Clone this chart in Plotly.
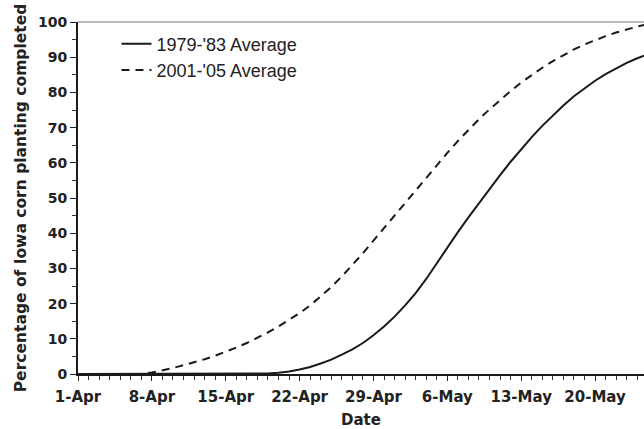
import pandas as pd
import plotly.graph_objects as go

# Dates (1-Apr through 25-May)
dates = pd.date_range("2001-04-01", "2001-05-25", freq="D")

avg_1979_83 = [0, 0, 0, 0, 0, 0, 0, 0, 0, 0, 0, 0, 0, 0, 0, 0, 0,
               0.05, 0.15, 0.35, 0.7, 1.3, 2.0, 3.0, 4.1, 5.5, 7.0, 8.8, 11.0, 13.5,
               16.3, 19.5, 23.0, 27.0, 31.5, 36.0, 40.3, 44.5, 48.6, 52.6, 56.5, 60.3,
               63.9, 67.3, 70.5, 73.5, 76.3, 78.9, 81.2, 83.3, 85.2, 86.9, 88.4, 89.7, 90.8]

avg_2001_05 = [0, 0, 0, 0, 0, 0, 0,
               0.4, 1.0, 1.7, 2.5, 3.3, 4.2, 5.2, 6.3, 7.5, 8.8, 10.2, 11.8, 13.5,
               15.3, 17.3, 19.5, 22.0, 24.7, 27.7, 30.9, 34.3, 37.9, 41.5, 45.1, 48.6,
               52.1, 55.6, 59.2, 62.8, 66.2, 69.4, 72.4, 75.2, 77.9, 80.4, 82.8, 85.0,
               87.0, 88.9, 90.6, 92.2, 93.6, 94.9, 96.0, 97.0, 97.9, 98.7, 99.4]

series_names = ["1979-'83 Average", "2001-'05 Average"]

x_tick_vals = pd.date_range("2001-04-01", "2001-05-20", freq="7D")
x_tick_text = ["1-Apr", "8-Apr", "15-Apr", "22-Apr", "29-Apr", "6-May", "13-May", "20-May"]
y_tick_vals = [0, 10, 20, 30, 40, 50, 60, 70, 80, 90, 100]

BOLD = "DejaVu Sans"
fig = go.Figure()
fig.add_trace(go.Scatter(x=dates, y=avg_1979_83, mode="lines", name=series_names[0],
                         line=dict(color="#1a1a1a", width=2)))
fig.add_trace(go.Scatter(x=dates, y=avg_2001_05, mode="lines", name=series_names[1],
                         line=dict(color="#1a1a1a", width=2, dash="8px,6px")))

x_range = ["2001-04-01", "2001-05-24 15:20"]

fig.update_layout(
    width=644, height=429,
    margin=dict(l=78, r=0, t=22, b=55, autoexpand=False),
    paper_bgcolor="white", plot_bgcolor="white",
    showlegend=True,
    legend=dict(x=0.068, y=0.99, xanchor="left", yanchor="top",
                bgcolor="rgba(0,0,0,0)",
                font=dict(family="Liberation Sans, Arial", size=18, color="#222")),
    xaxis=dict(
        type="date", range=x_range,
        tickmode="array", tickvals=x_tick_vals, ticktext=x_tick_text,
        ticks="outside", ticklen=5, tickwidth=1.3, tickcolor="#222",
        ticklabelstandoff=3,
        minor=dict(dtick=86400000, tick0="2001-04-01", ticks="outside", ticklen=4,
                   tickwidth=1, tickcolor="#333", showgrid=False),
        showline=True, linecolor="#1a1a1a", linewidth=1.6,
        showgrid=False, zeroline=False,
        tickfont=dict(family=BOLD, size=15, color="#222", weight="bold"),
        title=dict(text="Date", standoff=18,
                   font=dict(family=BOLD, size=15, color="#222", weight="bold")),
        automargin=False,
    ),
    xaxis2=dict(
        type="date", overlaying="x", matches="x", anchor="y",
        tickmode="array", tickvals=x_tick_vals, showticklabels=False,
        ticks="inside", ticklen=5, tickwidth=1.3, tickcolor="#222",
        showline=False, showgrid=False, zeroline=False,
    ),
    yaxis=dict(
        range=[0, 100], tickmode="array", tickvals=y_tick_vals,
        ticks="outside", ticklen=6, tickwidth=1.3, tickcolor="#222",
        minor=dict(dtick=5, ticks="outside", ticklen=4, tickwidth=1, tickcolor="#333",
                   showgrid=False),
        showline=True, linecolor="#1a1a1a", linewidth=2,
        showgrid=False, zeroline=False,
        tickfont=dict(family=BOLD, size=14, color="#222", weight="bold"),
        title=dict(text="Percentage of Iowa corn planting completed", standoff=8,
                   font=dict(family=BOLD, size=15.5, color="#222", weight="bold")),
        automargin=False,
    ),
    shapes=[dict(type="line", xref="paper", yref="paper", x0=0, x1=1, y0=1, y1=1,
                 line=dict(color="#777", width=1.2))],
)

fig.write_html("out.html", config={"displayModeBar": False},
               post_script="document.body.style.margin='0';")
